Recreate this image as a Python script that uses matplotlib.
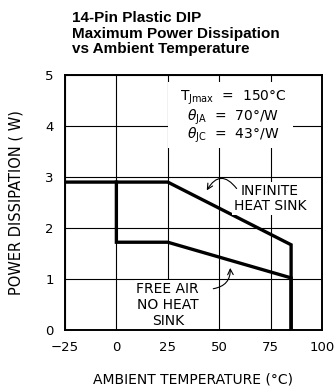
import matplotlib.pyplot as plt
from matplotlib.patches import Rectangle

# data
temp_inf = [-25, 25, 85, 85]
pwr_inf = [2.9, 2.9, 1.67, 0]
temp_free = [0, 0, 25, 85, 85]
pwr_free = [2.9, 1.72, 1.72, 1.02, 0]
x_ticks = [-25, 0, 25, 50, 75, 100]
y_ticks = [0, 1, 2, 3, 4, 5]

plt.rcParams['font.family'] = ['DejaVu Sans']

fig = plt.figure(figsize=(3.35, 3.89), dpi=100)
ax = fig.add_axes([0.194, 0.152, 0.767, 0.655])

ax.set_xlim(-25, 100)
ax.set_ylim(0, 5)
ax.set_xticks(x_ticks)
ax.set_yticks(y_ticks)
ax.set_xticklabels(['\u221225', '0', '25', '50', '75', '100'])
ax.tick_params(length=0, labelsize=9.5, pad=8)
ax.grid(True, color='black', linewidth=0.8)
for s in ax.spines.values():
    s.set_linewidth(1.4)

ax.plot(temp_inf, pwr_inf, color='black', linewidth=2.4, solid_joinstyle='miter', zorder=3)
ax.plot(temp_free, pwr_free, color='black', linewidth=2.4, solid_joinstyle='miter', zorder=3)

# white box behind the thermal data
ax.add_patch(Rectangle((25.3, 3.57), 60.5, 1.29, facecolor='white', edgecolor='none', zorder=2.5))
ax.text(57, 4.56, r'T$_{\mathrm{Jmax}}$  =  150°C', fontsize=10, ha='center', va='center', zorder=4)
ax.text(57, 4.18, r'$\theta_{\mathrm{JA}}$  =  70°/W', fontsize=10, ha='center', va='center', zorder=4)
ax.text(57, 3.82, r'$\theta_{\mathrm{JC}}$  =  43°/W', fontsize=10, ha='center', va='center', zorder=4)

box = dict(facecolor='white', edgecolor='none', pad=1)
ax.text(74.7, 2.58, 'INFINITE\nHEAT SINK', fontsize=10, ha='center', va='center',
        linespacing=1.15, bbox=box, zorder=4)
ax.annotate('', xy=(43.3, 2.69), xytext=(59.3, 2.73),
            arrowprops=dict(arrowstyle='->', color='black', lw=0.8,
                            connectionstyle='arc3,rad=0.8'), zorder=5)

ax.text(25, 0.49, 'FREE AIR\nNO HEAT\nSINK', fontsize=10, ha='center', va='center',
        linespacing=1.2, bbox=box, zorder=4)
ax.annotate('', xy=(55.3, 1.27), xytext=(45.8, 0.8),
            arrowprops=dict(arrowstyle='->', color='black', lw=0.8,
                            connectionstyle='arc3,rad=0.5'), zorder=5)

ax.set_xlabel('AMBIENT TEMPERATURE (°C)', fontsize=10, labelpad=13)
ax.set_ylabel('POWER DISSIPATION ( W)', fontsize=10.5, labelpad=16)

fig.text(0.215, 0.972, '14-Pin Plastic DIP\nMaximum Power Dissipation\nvs Ambient Temperature',
         family='Liberation Sans', weight='bold', fontsize=11, ha='left', va='top', linespacing=1.15)

fig.savefig('out.png', dpi=100)
